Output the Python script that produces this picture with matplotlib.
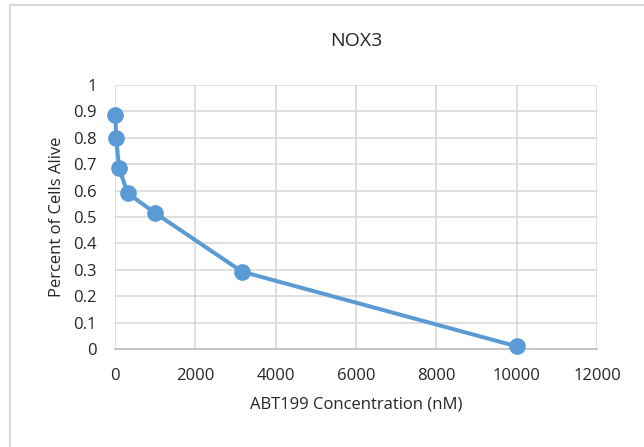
import matplotlib.pyplot as plt
from matplotlib.patches import Rectangle

plt.rcParams['font.family'] = ['Open Sans', 'DejaVu Sans']

conc = [10, 30, 100, 316, 1000, 3162, 10000]
alive = [0.885, 0.80, 0.685, 0.59, 0.515, 0.293, 0.01]
xticks = [0, 2000, 4000, 6000, 8000, 10000, 12000]
yticks = [0, 0.1, 0.2, 0.3, 0.4, 0.5, 0.6, 0.7, 0.8, 0.9, 1]
ytick_labels = ['0', '0.1', '0.2', '0.3', '0.4', '0.5', '0.6', '0.7', '0.8', '0.9', '1']

fig = plt.figure(figsize=(6.44, 4.47), dpi=100)
# chart area border
fig.patches.append(Rectangle((10 / 644, -0.1), 1.0, 1.1 - 5 / 447, transform=fig.transFigure,
                             fill=False, edgecolor='#d9d9d9', linewidth=1.5))

ax = fig.add_axes([115 / 644, 1 - 349 / 447, (597 - 115) / 644, (349 - 85) / 447])
ax.plot(conc, alive, color='#5B9BD5', linewidth=2.9, marker='o', markersize=11,
        zorder=3, clip_on=False)

ax.set_xlim(0, 12000)
ax.set_ylim(0, 1)
ax.set_xticks(xticks)
ax.set_yticks(yticks)
ax.set_yticklabels(ytick_labels)
ax.grid(True, color='#d9d9d9', linewidth=1.2)
ax.set_axisbelow(True)
for s in ['top', 'right', 'left']:
    ax.spines[s].set_visible(False)
ax.spines['bottom'].set_color('#bfbfbf')
ax.spines['bottom'].set_linewidth(1.2)
ax.tick_params(length=0, labelsize=12, colors='#262626')
ax.tick_params(axis='x', pad=14)
ax.tick_params(axis='y', pad=13)

ax.set_title('NOX3', fontsize=14, color='#262626', pad=28)
ax.set_xlabel('ABT199 Concentration (nM)', fontsize=12, color='#262626', labelpad=9)
ax.set_ylabel('Percent of Cells Alive', fontsize=12, color='#262626', labelpad=6)

plt.savefig('out.png', dpi=100)
